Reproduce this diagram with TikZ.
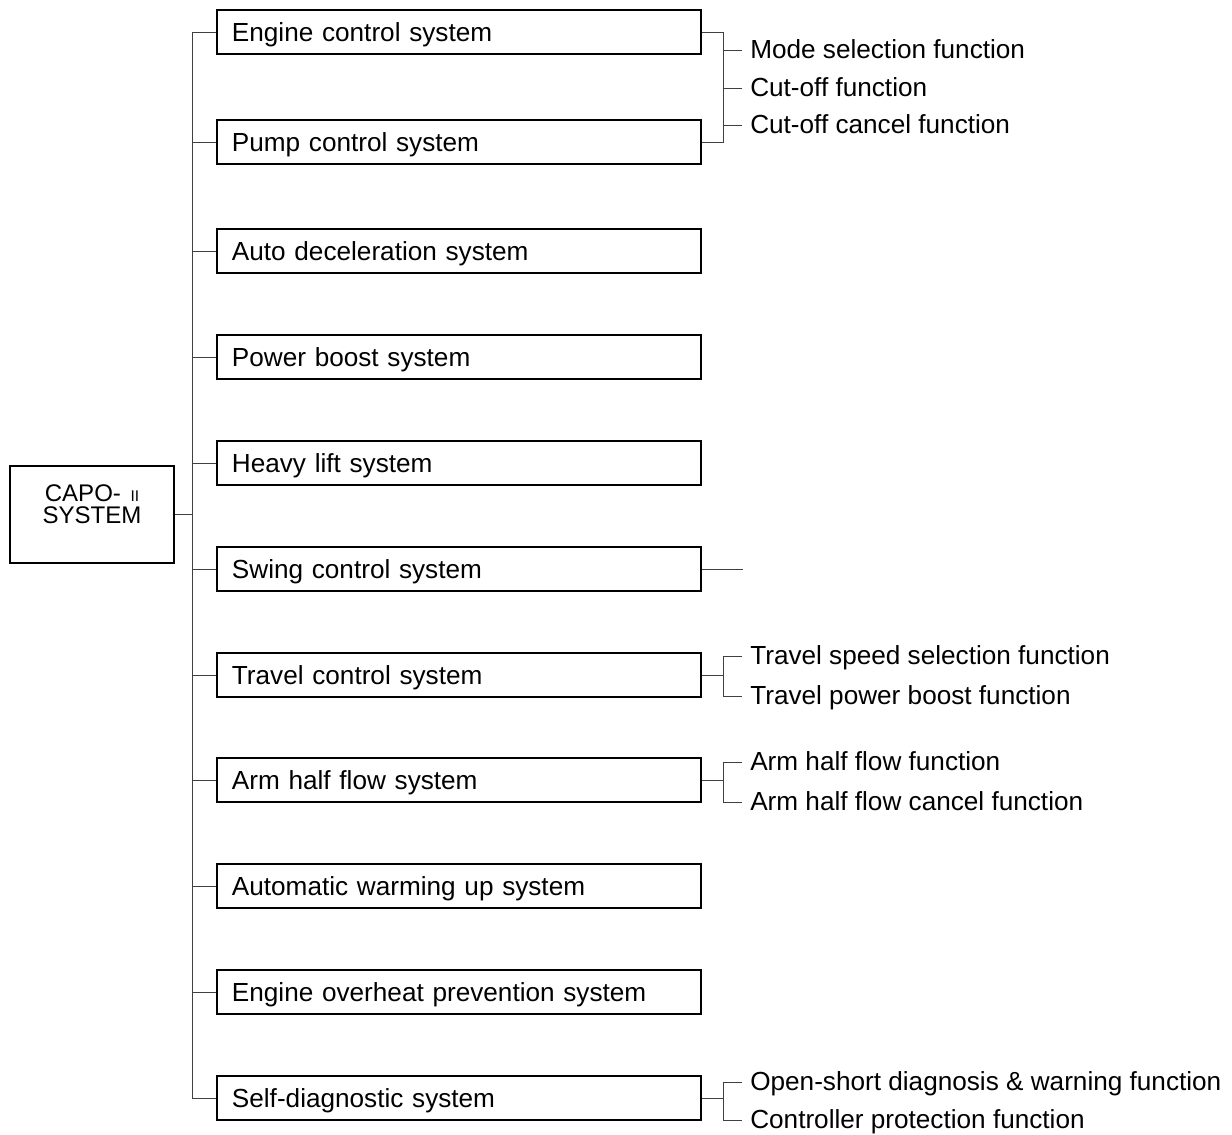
\documentclass[tikz,border=0pt]{standalone}
\usepackage{fontspec}
\setmainfont{Liberation Sans}
\begin{document}
\begin{tikzpicture}[x=0.025cm,y=-0.025cm,
    sysbox/.style={draw=black, line width=0.9pt, minimum height=1.1cm, text width=11.35cm, inner xsep=0.375cm, inner ysep=0pt, align=left, text height=13.4pt, text depth=0pt, font=\fontsize{18.6}{22}\selectfont},
    func/.style={anchor=west, inner xsep=0.2cm, inner ysep=0pt, text height=11.5pt, text depth=0pt, font=\fontsize{18.6}{22}\selectfont},
    link/.style={draw=black!75, line width=0.7pt}]
    \useasboundingbox (0,0) rectangle (1232,1135);
    % main block
    \node[draw, line width=0.9pt, minimum width=4.1cm, minimum height=2.425cm] (capo) at (92,514.5) {};
    \node[align=center, inner sep=0pt, font=\fontsize{17.1}{16}\selectfont] (capotxt) at (92,504) {CAPO-\hspace{0.4em}{\fontsize{11}{16}\selectfont II}\\SYSTEM};
    % systems
    \foreach \y/\n/\t in {32/eng/Engine control system, 142/pump/Pump control system, 251/auto/Auto deceleration system, 357/boost/Power boost system, 463/heavy/Heavy lift system, 569/swing/Swing control system, 675/travel/Travel control system, 780/arm/Arm half flow system, 886/warm/Automatic warming up system, 992/heat/Engine overheat prevention system, 1098/self/Self-diagnostic system}{
    \node[sysbox] (\n) at (459,\y) {\t};
    }
    \draw[link] (eng.west) -- ++(-24,0) coordinate (trunk) |- (self.west);
    \foreach \n in {pump,auto,boost,heavy,swing,travel,arm,warm,heat}{
    \draw[link] (\n.west) -- (\n.west -| trunk);
    }
    \draw[link] (capo.east) -- (capo.east -| trunk);
    % functions
    \node[func] (mode) at (742,50) {Mode selection function};
    \node[func] (cutoff) at (742,88) {Cut-off function};
    \node[func] (cancel) at (742,125) {Cut-off cancel function};
    \node[func] (tspeed) at (742,656) {Travel speed selection function};
    \node[func] (tboost) at (742,696) {Travel power boost function};
    \node[func] (ahalf) at (742,762) {Arm half flow function};
    \node[func] (acancel) at (742,802) {Arm half flow cancel function};
    \node[func] (diag) at (742,1082) {Open-short diagnosis \& warning function};
    \node[func] (protect) at (742,1120) {Controller protection function};
    \draw[link] (eng.east) -- ++(22,0) coordinate (ej) |- (pump.east);
    \foreach \n in {mode,cutoff,cancel}{
    \draw[link] (\n.west) -- (\n.west -| ej);
    }
    \draw[link] (swing.east) -- ++(41,0) coordinate (sj);
    \draw[link] (travel.east) -- ++(22,0) coordinate (tj);
    \draw[link] (tspeed.west) -| (tj) |- (tboost.west);
    \draw[link] (arm.east) -- ++(22,0) coordinate (aj);
    \draw[link] (ahalf.west) -| (aj) |- (acancel.west);
    \draw[link] (self.east) -- ++(22,0) coordinate (dj);
    \draw[link] (diag.west) -| (dj) |- (protect.west);
\end{tikzpicture}
\end{document}
